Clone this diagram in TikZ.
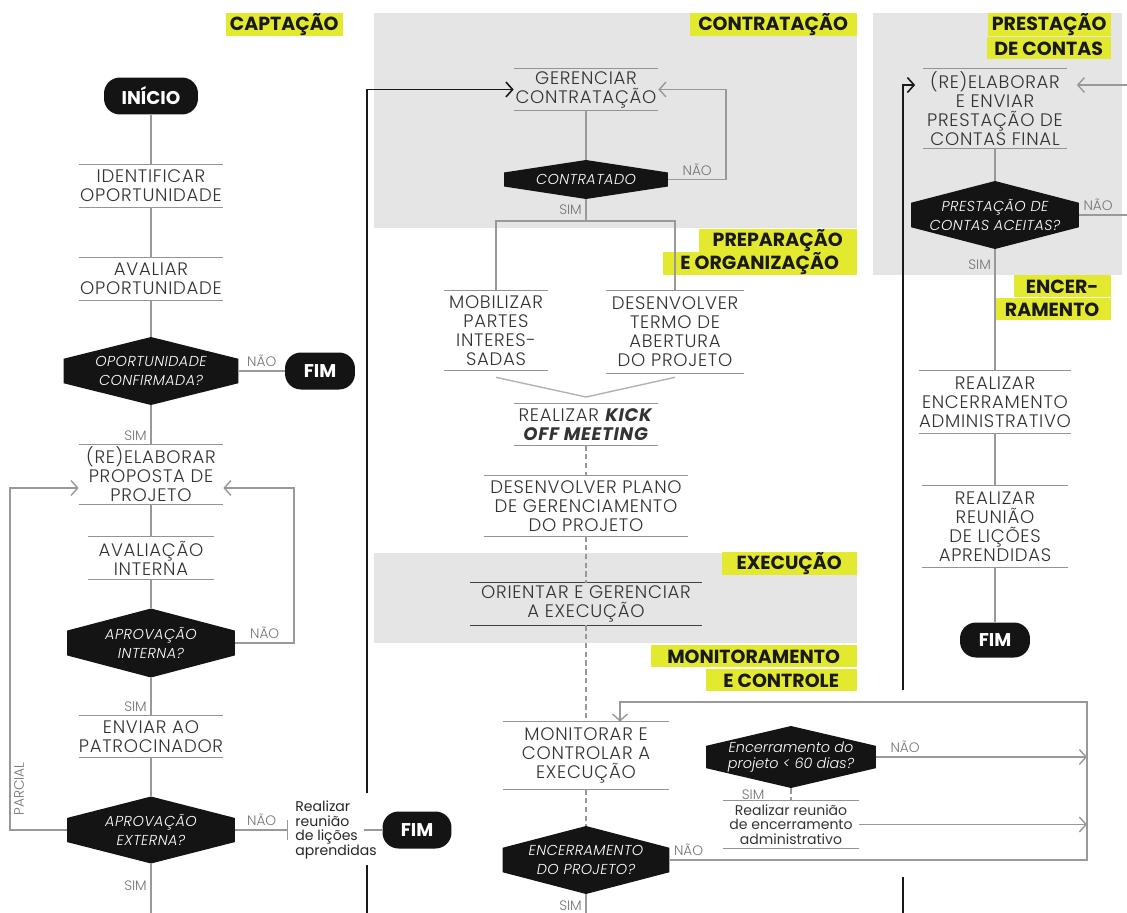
\documentclass[tikz,border=0pt]{standalone}
\usepackage{fontspec}
\setmainfont{Poppins}[UprightFont={* Light}, ItalicFont={* Light Italic}, BoldFont={* Bold}, BoldItalicFont={* Bold Italic}]
\newfontfamily\poppinsreg{Poppins}
\usepackage{xcolor}
\usepackage{tikz}
\usetikzlibrary{arrows.meta, calc}

\definecolor{amarelo}{HTML}{E3E92F}
\newcommand{\fonteetapa}{\addfontfeatures{LetterSpace=4}\fontsize{10.3}{10.8}\selectfont}
\newcommand{\fontedecisao}{\addfontfeatures{LetterSpace=3}\itshape\fontsize{8.2}{10.5}\selectfont}
\newcommand{\fontedecisaomin}{\itshape\fontsize{8.2}{8.6}\selectfont}
\newcommand{\fonteterminal}{\bfseries\fontsize{10.5}{12}\selectfont}
\newcommand{\fontefase}{\bfseries\fontsize{10.8}{12}\selectfont}
\newcommand{\fonterotulo}{\fontsize{7.8}{9}\selectfont}
\newcommand{\fontenota}{\poppinsreg\fontsize{8}{8.2}\selectfont}

\begin{document}
\begin{tikzpicture}[x=0.02cm, y=-0.02cm, every node/.style={font=\fonteetapa},
  regra/.style={draw=black!42, line width=0.6pt},
  etapa/.style={align=center, inner sep=0pt, text=black!80,
    append after command={(\tikzlastnode.north west) edge[regra] (\tikzlastnode.north east)
      (\tikzlastnode.south west) edge[regra] (\tikzlastnode.south east)}},
  decisao/.style={align=center, inner sep=0pt, text=white, font=\fontedecisao,
    path picture={\fill[black!92]
      ($(path picture bounding box.north west)!0.32!(path picture bounding box.south west)$)
      -- (path picture bounding box.north)
      -- ($(path picture bounding box.north east)!0.32!(path picture bounding box.south east)$)
      -- ($(path picture bounding box.south east)!0.32!(path picture bounding box.north east)$)
      -- (path picture bounding box.south)
      -- ($(path picture bounding box.south west)!0.32!(path picture bounding box.north west)$)
      -- cycle;}},
  terminal/.style={fill=black!92, text=white, rounded corners=0.32cm, minimum height=0.74cm,
    inner sep=0pt, font=\fonteterminal},
  fase/.style={fill=amarelo, text=black!90, anchor=north east, minimum height=0.44cm,
    minimum width=#1, inner xsep=0.08cm, inner ysep=0pt, font=\fontefase},
  rotulo/.style={text=black!55, inner sep=2pt, font=\fonterotulo},
  nota/.style={text=black!85, inner sep=0pt, font=\fontenota},
  conector/.style={draw=black!40, line width=0.8pt},
  tracejado/.style={conector, dash pattern=on 3pt off 2pt},
  continua/.style={draw=black!90, line width=0.9pt},
  seta/.style={-{Straight Barb[length=3.8pt, width=8.5pt]}}]
\useasboundingbox (0,0) rectangle (1127,913);
\clip (0,0) rectangle (1127,913);
% fundos cinza
\fill[black!10] (374,13) rectangle (857,228);
\fill[black!10] (374,553) rectangle (857,643);
\fill[black!10] (873,13) rectangle (1122,275);
% rotulos das fases
\node[fase=2.22cm] (captacao) at (343,13) {CAPTAÇÃO};
\node[fase=3.34cm] (contratacao) at (857,13) {CONTRATAÇÃO};
\node[fase=3.16cm] (preparacao) at (857,229) {PREPARAÇÃO};
\node[fase=3.88cm] (organizacao) at (857,252) {E ORGANIZAÇÃO};
\node[fase=2.7cm] (execucao) at (857,552) {EXECUÇÃO};
\node[fase=4.12cm] (monitoramento) at (857,645) {MONITORAMENTO};
\node[fase=3.02cm] (controle) at (857,669) {E CONTROLE};
\node[fase=2.46cm] (prestacaofase) at (1111,13) {PRESTAÇÃO};
\node[fase=2.48cm] (decontas) at (1111,37) {DE CONTAS};
\node[fase=1.94cm] (encer) at (1111,275) {ENCER-};
\node[fase=2.34cm] (ramento) at (1111,298) {RAMENTO};

% captacao
\node[terminal, minimum width=1.88cm] (inicio) at (151,96) {INÍCIO};
\node[etapa, minimum width=2.88cm, minimum height=0.84cm] (identificar) at (151,186) {IDENTIFICAR\\OPORTUNIDADE};
\node[etapa, minimum width=2.88cm, minimum height=0.84cm] (avaliar) at (151,279) {AVALIAR\\OPORTUNIDADE};
\node[decisao, minimum width=3.5cm, minimum height=1.36cm] (oportunidade) at (151,371) {OPORTUNIDADE\\CONFIRMADA?};
\node[terminal, minimum width=1.4cm] (fim1) at (320,371) {FIM};
\node[etapa, minimum width=2.88cm, minimum height=1.18cm] (reelaborar) at (151,474.5) {(RE)ELABORAR\\PROPOSTA DE\\PROJETO};
\node[etapa, minimum width=2.52cm, minimum height=0.84cm] (avalinterna) at (151,558) {AVALIAÇÃO\\INTERNA};
\node[decisao, minimum width=3.36cm, minimum height=1.38cm] (aprovinterna) at (151,643) {APROVAÇÃO\\INTERNA?};
\node[etapa, minimum width=2.88cm, minimum height=0.82cm] (enviar) at (151,736.5) {ENVIAR AO\\PATROCINADOR};
\node[decisao, minimum width=3.36cm, minimum height=1.34cm] (aprovexterna) at (151,830) {APROVAÇÃO\\EXTERNA?};
\node[nota, anchor=west, align=left, inner xsep=0.14cm] (licoes1) at (288,830) {Realizar\\reunião\\de lições\\aprendidas};
\node[terminal, minimum width=1.38cm] (fim2) at (417,830) {FIM};
\coordinate (voltaint) at (294,643);
\coordinate (voltaext) at (10,830);
\coordinate (saida1) at (151,930);
\coordinate (entraesq) at ([yshift=-0.27cm]reelaborar.west);
\coordinate (entradir) at ([yshift=-0.27cm]reelaborar.east);

\draw[conector] (inicio) -- (identificar);
\draw[conector] (identificar) -- (avaliar);
\draw[conector] (avaliar) -- (oportunidade);
\draw[conector] (oportunidade) -- node[rotulo, above] {NÃO} (fim1);
\draw[conector] (oportunidade) -- node[rotulo, anchor=south east, pos=1] {SIM} (reelaborar);
\draw[conector] (reelaborar) -- (avalinterna);
\draw[conector] (avalinterna) -- (aprovinterna);
\draw[conector, seta] (aprovinterna.east) -- node[rotulo, above] {NÃO} (voltaint) |- (entradir);
\draw[conector] (aprovinterna) -- node[rotulo, anchor=south east, pos=1] {SIM} (enviar);
\draw[conector] (enviar) -- (aprovexterna);
\draw[conector, seta] (aprovexterna.west) -- (voltaext)
  -- node[rotulo, rotate=90, anchor=north, pos=0.12] {PARCIAL} (voltaext |- entraesq) -- (entraesq);
\draw[conector, -{Bar[width=0.4cm]}] (aprovexterna.east) -- node[rotulo, above] {NÃO} (licoes1.west);
\draw[conector] ([xshift=-0.4cm]licoes1.east) -- (fim2.west);
\draw[conector] (aprovexterna) -- node[rotulo, anchor=north east, pos=0.2] {SIM} (saida1);

% contratacao, preparacao, execucao e monitoramento
\node[etapa, minimum width=2.88cm, minimum height=0.82cm] (gerenciar) at (586,89.5) {GERENCIAR\\CONTRATAÇÃO};
\node[decisao, minimum width=3.28cm, minimum height=0.78cm] (contratado) at (586,179.5) {CONTRATADO};
\node[etapa, minimum width=2.06cm, minimum height=1.58cm] (mobilizar) at (496,330.5) {MOBILIZAR\\PARTES\\INTERES-\\SADAS};
\node[etapa, minimum width=2.74cm, minimum height=1.64cm] (termo) at (675,332) {DESENVOLVER\\TERMO DE\\ABERTURA\\DO PROJETO};
\node[etapa, minimum width=2.88cm, minimum height=0.82cm] (kickoff) at (586,424.5) {REALIZAR \textbf{\textit{KICK}}\\\textbf{\textit{OFF MEETING}}};
\node[etapa, minimum width=4.08cm, minimum height=1.2cm] (plano) at (586,506) {DESENVOLVER PLANO\\DE GERENCIAMENTO\\DO PROJETO};
\node[etapa, minimum width=4.62cm, minimum height=0.84cm] (orientar) at (586,604) {ORIENTAR E GERENCIAR\\A EXECUÇÃO};
\node[etapa, minimum width=3.3cm, minimum height=1.34cm] (monitorar) at (586,755.5) {MONITORAR E\\CONTROLAR A\\EXECUÇÃO};
\node[decisao, minimum width=3.4cm, minimum height=1.24cm, font=\fontedecisaomin] (encerr60) at (791,757) {Encerramento do\\projeto < 60 dias?};
\node[etapa, font=\fontenota, minimum width=2.72cm, minimum height=0.94cm] (reuniaoenc) at (791,824.5) {Realizar reunião\\de encerramento\\administrativo};
\node[decisao, minimum width=3.34cm, minimum height=1.36cm] (encprojeto) at (586,860) {ENCERRAMENTO\\DO PROJETO?};
\coordinate (voltacontr) at (726,179.5);
\coordinate (bifurca) at (586,221);
\coordinate (junta) at (586,397);
\coordinate (laco) at (1087,702);
\coordinate (saida2) at (586,930);

\draw[regra, black!75] (orientar.north west) -- (orientar.north east);
\draw[regra, black!75] (orientar.south west) -- (orientar.south east);
\draw[conector] (gerenciar) -- (contratado);
\draw[conector, seta] (contratado.east) -- node[rotulo, above] {NÃO} (voltacontr) |- (gerenciar.east);
\draw[conector] (contratado) -- node[rotulo, left] {SIM} (bifurca);
\draw[conector] (mobilizar.north) |- (bifurca) -| (termo.north);
\draw[conector, black!30] ([yshift=-0.14cm]mobilizar.south) -- (junta) -- ([yshift=-0.08cm]termo.south);
\draw[tracejado] (kickoff) -- (plano);
\draw[tracejado] (plano) -- (orientar);
\draw[tracejado] (orientar) -- (monitorar);
\draw[tracejado] (monitorar) -- (encprojeto);
\draw[conector, seta] (encprojeto.east) -- node[rotulo, anchor=south west, pos=0] {NÃO} (encprojeto.east -| laco)
  -- (laco) -| ([xshift=0.68cm]monitorar.north);
\draw[conector, seta] (encerr60.east) -- node[rotulo, anchor=south west, pos=0, xshift=0.2cm] {NÃO} (encerr60.east -| laco);
\draw[tracejado] (encerr60) -- node[rotulo, left, xshift=-0.45cm] {SIM} (reuniaoenc);
\draw[conector, seta] (reuniaoenc.east) -- (reuniaoenc.east -| laco);
\draw[conector] (encprojeto) -- node[rotulo, anchor=north east, pos=0.05] {SIM} (saida2);

% prestacao de contas e encerramento
\node[etapa, minimum width=2.86cm, minimum height=1.58cm] (prestacao) at (995,108.5) {(RE)ELABORAR\\E ENVIAR\\PRESTAÇÃO DE\\CONTAS FINAL};
\node[decisao, minimum width=3.36cm, minimum height=1.36cm] (aceitas) at (995,215) {PRESTAÇÃO DE\\CONTAS ACEITAS?};
\node[etapa, minimum width=2.9cm, minimum height=1.24cm] (encadm) at (995,402) {REALIZAR\\ENCERRAMENTO\\ADMINISTRATIVO};
\node[etapa, minimum width=2.9cm, minimum height=1.62cm] (licoes3) at (995,526.5) {REALIZAR\\REUNIÃO\\DE LIÇÕES\\APRENDIDAS};
\node[terminal, minimum width=1.4cm, minimum height=0.7cm] (fim3) at (995,640) {FIM};
\coordinate (voltaprest) at (1140,215);
\coordinate (retornaprest) at ([xshift=0.2cm, yshift=0.47cm]prestacao.east);
\coordinate (entraprest) at ([xshift=-0.16cm, yshift=0.47cm]prestacao.west);

\draw[conector] (prestacao) -- (aceitas);
\draw[conector, seta] (aceitas.east) -- node[rotulo, anchor=south west, pos=0] {NÃO} (voltaprest) |- (retornaprest);
\draw[conector] (aceitas) -- node[rotulo, anchor=north east, pos=0.05] {SIM} (encadm);
\draw[conector] (encadm) -- (licoes3);
\draw[conector] (licoes3) -- (fim3);

% linhas de continuacao entre colunas
\coordinate (cont1a) at (367,930);
\coordinate (cont1b) at (367,865);
\coordinate (cont1c) at (367,793);
\coordinate (cont2a) at (903,930);
\coordinate (cont2b) at (903,877);
\coordinate (cont2c) at (903,690);
\draw[continua] (cont1a) -- (cont1b);
\draw[continua, seta] (cont1c) |- (gerenciar.west);
\draw[continua] (cont2a) -- (cont2b);
\draw[continua, seta] (cont2c) |- (entraprest);
\end{tikzpicture}
\end{document}
